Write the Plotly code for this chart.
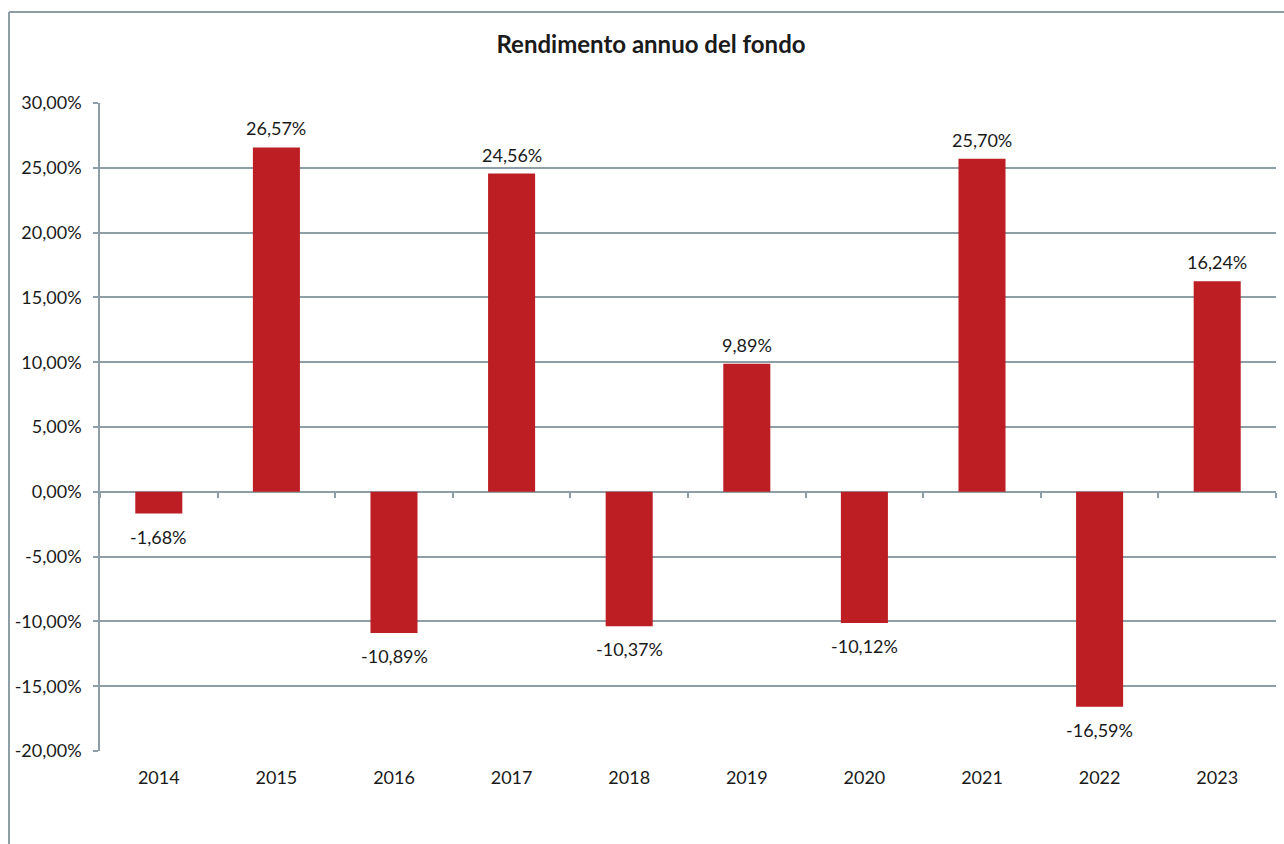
import plotly.graph_objects as go

# Annual fund returns (%)
years = ["2014", "2015", "2016", "2017", "2018", "2019", "2020", "2021", "2022", "2023"]
returns = [-1.68, 26.57, -10.89, 24.56, -10.37, 9.89, -10.12, 25.70, -16.59, 16.24]

y_ticks = [30, 25, 20, 15, 10, 5, 0, -5, -10, -15, -20]


def it_pct(v):
    # Italian style percentage: comma decimal, ASCII hyphen for negatives
    return f"{v:.2f}".replace(".", ",") + "%"


y_tick_text = [it_pct(v) for v in y_ticks]
bar_labels = [it_pct(v) for v in returns]

BAR = "#BC1E23"
GRID = "#8E9EA6"
TEXT = "#1a1a1a"
FONT = "Lato, Open Sans, sans-serif"

# plot area in pixels
W, H = 1284, 844
L, R, T, B = 100, 8, 103, 93
pw, ph = W - L - R, H - T - B


def px_x(px):
    return (px - L) / pw


def px_y(py):
    return (H - B - py) / ph


fig = go.Figure()
fig.add_trace(go.Bar(
    x=years, y=returns,
    marker=dict(color=BAR, line=dict(width=0)),
    width=0.4,
    hovertext=bar_labels, hoverinfo="x+text",
    xaxis="x", yaxis="y",
))
# invisible helper trace so the zero-line tick axis is drawn
fig.add_trace(go.Scatter(x=years, y=[0] * len(years), mode="markers",
                         marker=dict(opacity=0), hoverinfo="skip",
                         showlegend=False, xaxis="x2", yaxis="y"))

# value labels: above positive bars, below negative ones
# (category axis positions are given by category index)
annotations = []
for i, (v, lab) in enumerate(zip(returns, bar_labels)):
    pos = v >= 0
    annotations.append(dict(
        x=i, y=v, xref="x", yref="y", text=lab, showarrow=False,
        xanchor="center", yanchor="bottom" if pos else "top",
        yshift=6 if pos else -10,
        font=dict(family=FONT, size=18, color=TEXT),
    ))

fig.update_layout(
    width=W, height=H,
    margin=dict(l=L, r=R, t=T, b=B, autoexpand=False),
    paper_bgcolor="white", plot_bgcolor="white",
    showlegend=False,
    title=dict(text="<b>Rendimento annuo del fondo</b>",
               x=651 / W, xanchor="center", y=1 - 45 / H, yanchor="middle",
               font=dict(family=FONT, size=24, color=TEXT)),
    xaxis=dict(type="category", categoryorder="array", categoryarray=years,
               showgrid=False, showline=False, zeroline=False, ticks="",
               tickfont=dict(family=FONT, size=18, color=TEXT),
               ticklabelstandoff=14, range=[-0.5, 9.5]),
    xaxis2=dict(type="category", categoryorder="array", categoryarray=years,
                overlaying="x", matches="x", anchor="free", position=0.4,
                showgrid=False, showline=False, zeroline=False,
                ticks="outside", tickson="boundaries", ticklen=5,
                tickcolor=GRID, tickwidth=1.5, showticklabels=False),
    yaxis=dict(range=[-20, 30], tickmode="array", tickvals=y_ticks, ticktext=y_tick_text,
               showgrid=True, gridcolor=GRID, gridwidth=1.5,
               zeroline=True, zerolinecolor=GRID, zerolinewidth=1.5,
               showline=True, linecolor=GRID, linewidth=1.5,
               ticks="outside", ticklen=5, tickcolor=GRID, tickwidth=1.5,
               tickfont=dict(family=FONT, size=18, color=TEXT),
               ticklabelstandoff=8),
    annotations=annotations,
    shapes=[
        # chart frame (top and left edges)
        dict(type="line", xref="paper", yref="paper",
             x0=px_x(9), x1=px_x(W + 5), y0=px_y(12), y1=px_y(12),
             line=dict(color=GRID, width=2)),
        dict(type="line", xref="paper", yref="paper",
             x0=px_x(9), x1=px_x(9), y0=px_y(12), y1=px_y(H + 5),
             line=dict(color=GRID, width=2)),
    ],
)

fig.write_html("out.html")
